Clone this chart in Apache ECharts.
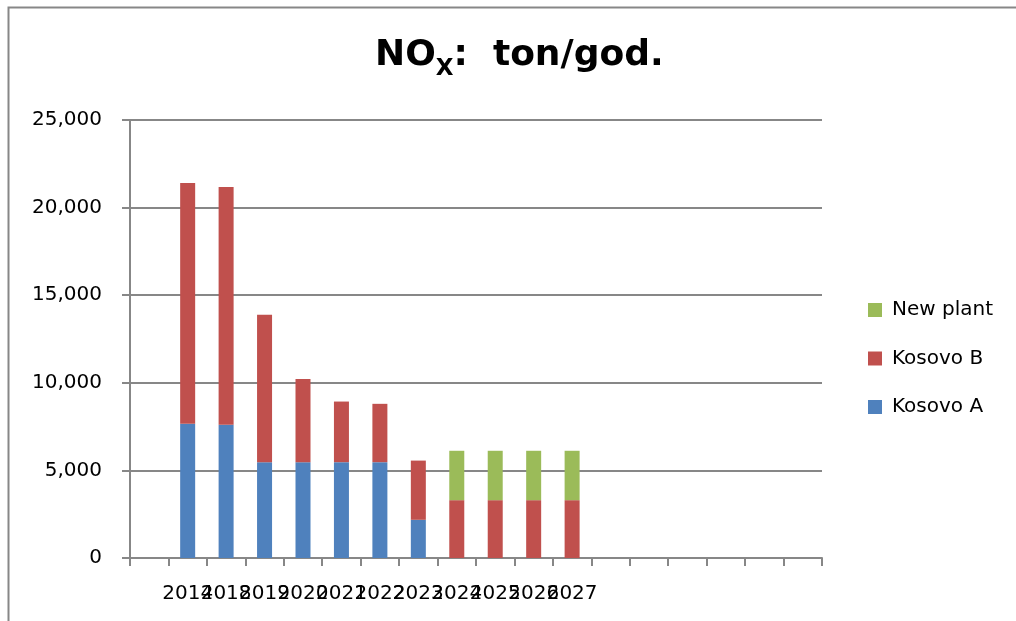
<!DOCTYPE html>
<html>
<head>
<meta charset="utf-8">
<script src="https://cdn.jsdelivr.net/npm/echarts@6/dist/echarts.min.js"></script>
<style>
html,body{margin:0;padding:0;background:#fff;}
#chart{width:1016px;height:621px;}
</style>
</head>
<body>
<div id="chart"></div>
<script>
const categories = ['', '2014', '2018', '2019', '2020', '2021', '2022', '2023', '2024', '2025', '2026', '2027', '', '', '', '', '', ''];
const kosovoA = [null, 7660, 7610, 5470, 5470, 5470, 5470, 2180, null, null, null, null, null, null, null, null, null, null];
const kosovoB = [null, 13740, 13570, 8410, 4740, 3460, 3330, 3380, 3300, 3300, 3300, 3300, null, null, null, null, null, null];
const newPlant = [null, null, null, null, null, null, null, null, 2820, 2820, 2820, 2820, null, null, null, null, null, null];
const yTicks = [0, 5000, 10000, 15000, 20000, 25000];

const FONT = 'DejaVu Sans';
const GRAY = '#878787';

const chart = echarts.init(document.getElementById('chart'), null, {renderer: 'canvas'});
chart.setOption({
  backgroundColor: '#ffffff',
  animation: false,
  title: {
    text: '{m|NO}{s|X}{m|:  ton/god.}',
    left: 370,
    top: 26,
    textStyle: {
      rich: {
        m: {fontFamily: FONT, fontWeight: 'bold', fontSize: 36, color: '#000', lineHeight: 50, verticalAlign: 'middle'},
        s: {fontFamily: FONT, fontWeight: 'bold', fontSize: 23, color: '#000', lineHeight: 23, verticalAlign: 'bottom'}
      }
    }
  },
  legend: {
    orient: 'vertical',
    left: 863,
    top: 295,
    itemWidth: 14,
    itemHeight: 14,
    itemGap: 28.5,
    icon: 'rect',
    data: ['New plant', 'Kosovo B', 'Kosovo A'],
    textStyle: {fontFamily: FONT, fontSize: 20, color: '#000', lineHeight: 20, padding: [0, 0, 0, 5]}
  },
  grid: {left: 130, right: 194, top: 120, bottom: 63, containLabel: false},
  xAxis: {
    type: 'category',
    data: categories,
    boundaryGap: true,
    axisLine: {show: true, lineStyle: {color: GRAY, width: 2}},
    axisTick: {show: true, interval: 0, length: 8, lineStyle: {color: GRAY, width: 2}},
    axisLabel: {interval: 0, fontFamily: FONT, fontSize: 20, color: '#000', margin: 26, hideOverlap: false}
  },
  yAxis: {
    type: 'value',
    min: yTicks[0],
    max: yTicks[yTicks.length - 1],
    interval: yTicks[1] - yTicks[0],
    axisLine: {show: true, lineStyle: {color: GRAY, width: 2}},
    axisTick: {show: true, length: 8, lineStyle: {color: GRAY, width: 2}},
    axisLabel: {
      fontFamily: FONT, fontSize: 20, color: '#000', margin: 28,
      formatter: v => v.toLocaleString('en-US')
    },
    splitLine: {show: true, lineStyle: {color: GRAY, width: 2}}
  },
  series: [
    {name: 'Kosovo A', type: 'bar', stack: 'total', data: kosovoA, barWidth: 15, itemStyle: {color: '#4F81BD'}},
    {name: 'Kosovo B', type: 'bar', stack: 'total', data: kosovoB, barWidth: 15, itemStyle: {color: '#C0504D'}},
    {name: 'New plant', type: 'bar', stack: 'total', data: newPlant, barWidth: 15, itemStyle: {color: '#9BBB59'}}
  ],
  graphic: [{
    type: 'polyline',
    silent: true,
    shape: {points: [[8.5, 621], [8.5, 7.5], [1016, 7.5]]},
    style: {stroke: GRAY, lineWidth: 2, fill: null}
  }]
});
</script>
</body>
</html>
